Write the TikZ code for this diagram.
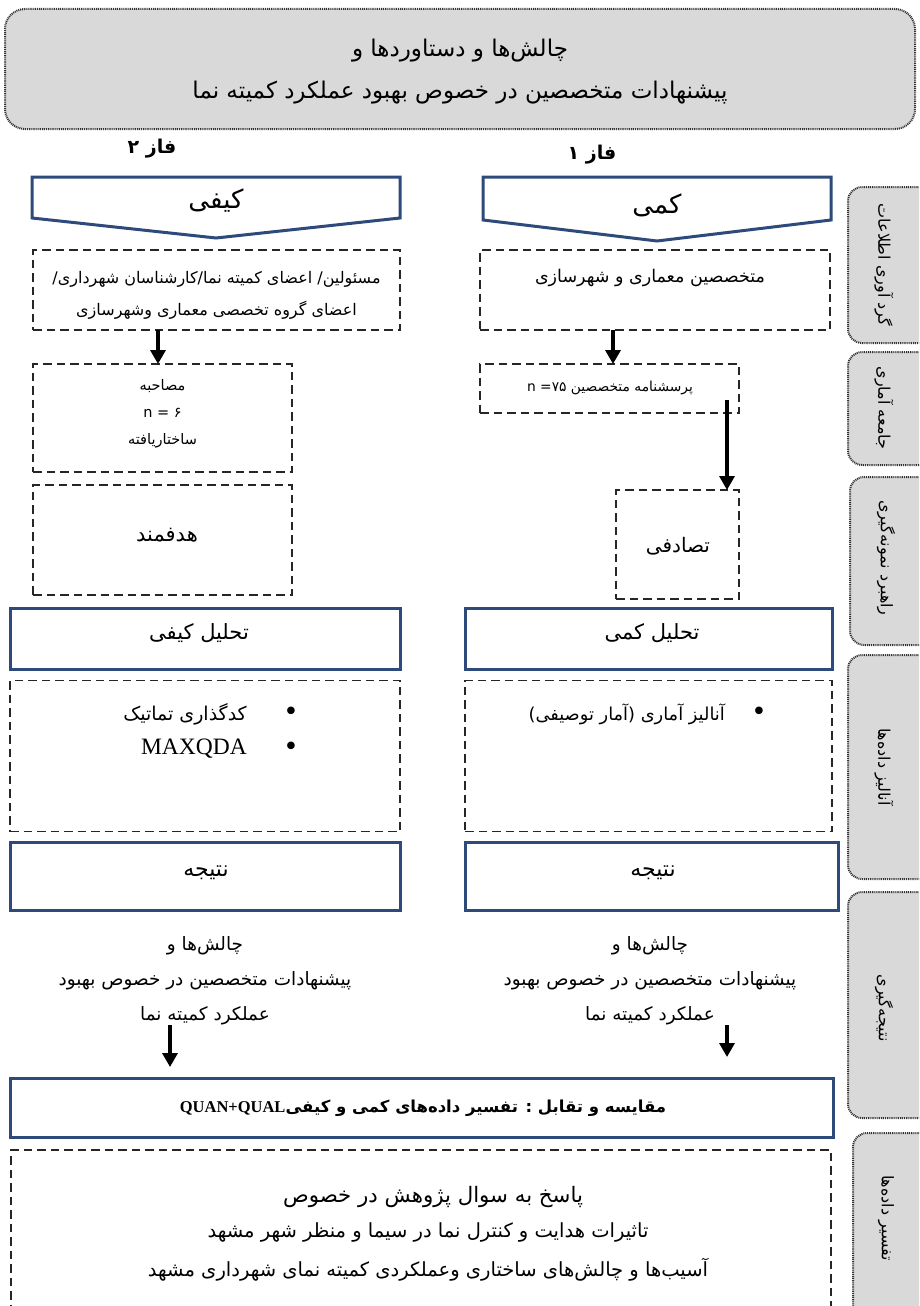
\documentclass[tikz,border=0pt]{standalone}
\usepackage{fontspec}
\setmainfont{Liberation Serif}
\newfontfamily\fa[Script=Arabic]{DejaVu Sans}
\newfontfamily\lat{Liberation Serif}
\TeXXeTstate=1
\usetikzlibrary{arrows.meta}
\definecolor{bbl}{RGB}{46,74,122}
\definecolor{gfill}{RGB}{217,217,217}
\newcommand\rtl[1]{\beginR #1\endR}
\newcommand\fsz[2]{\fontsize{#1}{#2}\selectfont}
\newcommand\fsl{\kern0pt/\kern0pt}
\begin{document}
\begin{tikzpicture}[x=1pt,y=-1pt,
  dbox/.style={draw=black!85,line width=1.8pt,dash pattern=on 8.5pt off 5pt,inner sep=0pt,outer sep=0pt},
  bbox/.style={draw=bbl,line width=3pt,inner sep=0pt,outer sep=0pt},
  tabbox/.style={draw=black!80,fill=gfill,line width=2pt,dash pattern=on 1pt off 0.9pt,rounded corners=14pt,inner sep=0pt},
  pent/.style={draw=bbl,line width=3pt,line join=miter},
  arr/.style={line width=3.4pt,-{Triangle[width=15pt,length=14pt]}},
  txt/.style={inner sep=0pt,align=center},
  bul/.style={inner sep=0pt,font=\fa\fsz{26}{26}},
  tabtxt/.style={inner sep=0pt,rotate=-90,font=\fa\fsz{16}{18}}]

\useasboundingbox (0,0) rectangle (919,1306);
\begin{scope}
\clip (0,0) rectangle (919,1306);

% top box
\node[tabbox,rounded corners=20pt,minimum width=910pt,minimum height=120pt] (top) at (460,69) {};
\node[txt,font=\fa\fsz{23}{42}] (toptxt) at (460,72) {\rtl{چالش‌ها و دستاوردها و}\\\rtl{پیشنهادات متخصصین در خصوص بهبود عملکرد کمیته نما}};

% phase labels
\node[txt,font=\fa\bfseries\fsz{19}{22}] (ph2) at (152,149) {\rtl{فاز ۲}};
\node[txt,font=\fa\bfseries\fsz{19}{22}] (ph1) at (592,155) {\rtl{فاز ۱}};

% pentagons
\draw[pent] (32,177) -- (400,177) -- (400,218) -- (216,238) -- (32,218) -- cycle;
\node[txt,font=\fa\fsz{26}{30}] (kayfi) at (216,201) {\rtl{کیفی}};
\draw[pent] (483,177) -- (831,177) -- (831,220) -- (657,241) -- (483,220) -- cycle;
\node[txt,font=\fa\fsz{26}{30}] (kammi) at (657,205) {\rtl{کمی}};

% left column
\node[dbox,minimum width=367pt,minimum height=80pt] (q1) at (216.5,290) {};
\node[txt,font=\fa\fsz{16}{32}] (q1t) at (216.5,295) {\rtl{مسئولین\fsl\ اعضای کمیته نما\fsl کارشناسان شهرداری\fsl}\\\rtl{اعضای گروه تخصصی معماری وشهرسازی}};
\node[dbox,minimum width=259pt,minimum height=108pt] (q2) at (162.5,418) {};
\node[txt,font=\fa\fsz{14.5}{27}] (q2t) at (162.5,414) {\rtl{مصاحبه}\\n = ۶\\\rtl{ساختاریافته}};
\node[dbox,minimum width=259pt,minimum height=110pt] (q3) at (162.5,540) {};
\node[txt,font=\fa\fsz{21}{24}] (q3t) at (167,535) {\rtl{هدفمند}};
\node[bbox,minimum width=390pt,minimum height=61pt] (q4) at (205,638.5) {};
\node[txt,font=\fa\fsz{21}{26}] (q4t) at (199,633) {\rtl{تحلیل کیفی}};
\node[dbox,minimum width=390pt,minimum height=151pt] (q5) at (205,756) {};
\node[bul] (qb1) at (291,714) {•};
\node[txt,font=\fa\fsz{19}{22},anchor=east] (qb1t) at (247,714) {\rtl{کدگذاری تماتیک}};
\node[bul] (qb2) at (291,749) {•};
\node[txt,font=\lat\fsz{23.5}{26},anchor=east] (qb2t) at (247,749) {MAXQDA};
\node[bbox,minimum width=390pt,minimum height=68pt] (q6) at (205,876) {};
\node[txt,font=\fa\fsz{22}{26}] (q6t) at (206,873) {\rtl{نتیجه}};
\node[txt,font=\fa\fsz{18.4}{35}] (lt) at (205,981) {\rtl{چالش‌ها و}\\\rtl{پیشنهادات متخصصین در خصوص بهبود}\\\rtl{عملکرد کمیته نما}};

% right column
\node[dbox,minimum width=350pt,minimum height=80pt] (r1) at (655,290) {};
\node[txt,font=\fa\fsz{17.5}{20}] (r1t) at (650,278) {\rtl{متخصصین معماری و شهرسازی}};
\node[dbox,minimum width=259pt,minimum height=49pt] (r2) at (609.5,388.5) {};
\node[txt,font=\fa\fsz{13.8}{16}] (r2t) at (610,388) {\rtl{پرسشنامه متخصصین \beginL n ۷۵=\endL}};
\node[dbox,minimum width=123pt,minimum height=109pt] (r3) at (677.5,544.5) {};
\node[txt,font=\fa\fsz{20}{24}] (r3t) at (678,546) {\rtl{تصادفی}};
\node[bbox,minimum width=367pt,minimum height=61pt] (r4) at (648.5,638.5) {};
\node[txt,font=\fa\fsz{21}{26}] (r4t) at (652,633) {\rtl{تحلیل کمی}};
\node[dbox,minimum width=367pt,minimum height=151pt] (r5) at (648.5,756) {};
\node[bul] (rb1) at (759,714) {•};
\node[txt,font=\fa\fsz{17.8}{20},anchor=east] (rb1t) at (725,714) {\rtl{آنالیز آماری (آمار توصیفی)}};
\node[bbox,minimum width=373pt,minimum height=68pt] (r6) at (651.5,876) {};
\node[txt,font=\fa\fsz{22}{26}] (r6t) at (653,873) {\rtl{نتیجه}};
\node[txt,font=\fa\fsz{18.4}{35}] (rt) at (650,981) {\rtl{چالش‌ها و}\\\rtl{پیشنهادات متخصصین در خصوص بهبود}\\\rtl{عملکرد کمیته نما}};

% bottom
\node[bbox,minimum width=823pt,minimum height=59pt] (cmp) at (421.5,1107.5) {};
\node[txt,font=\fa\bfseries\fsz{16.5}{20}] (cmpt) at (423,1108) {\rtl{مقایسه و تقابل : تفسیر داده‌های کمی و کیفی\beginL{\lat QUAN+QUAL}\endL}};
\node[dbox,minimum width=820pt,minimum height=190pt] (ans) at (421,1245) {};
\node[txt,font=\fa\fsz{21.3}{24}] (ans1) at (433,1197) {\rtl{پاسخ به سوال پژوهش در خصوص}};
\node[txt,font=\fa\fsz{19.5}{22}] (ans2) at (428,1232) {\rtl{تاثیرات هدایت و کنترل نما در سیما و منظر شهر مشهد}};
\node[txt,font=\fa\fsz{19.5}{22}] (ans3) at (428,1270) {\rtl{آسیب‌ها و چالش‌های ساختاری وعملکردی کمیته نمای شهرداری مشهد}};

% arrows
\coordinate (xa) at (158,0);
\coordinate (xb) at (613,0);
\coordinate (a3s) at (727,400);
\coordinate (a4e) at (170,1067);
\coordinate (a5e) at (727,1057);
\draw[arr] (q1.south -| xa) -- (q2.north -| xa);
\draw[arr] (r1.south -| xb) -- (r2.north -| xb);
\draw[arr] (a3s) -- (r3.north -| a3s);
\draw[arr] (lt.south -| a4e) -- (a4e);
\draw[arr] (rt.south -| a5e) -- (a5e);

% side tabs
\node[tabbox,minimum width=92pt,minimum height=156pt] (t1) at (894,265) {};
\node[tabtxt] (t1t) at (884,265) {\rtl{گرد آوری اطلاعات}};
\node[tabbox,minimum width=92pt,minimum height=113pt] (t2) at (894,408.5) {};
\node[tabtxt] (t2t) at (884,408) {\rtl{جامعه آماری}};
\node[tabbox,minimum width=90pt,minimum height=168pt] (t3) at (895,561) {};
\node[tabtxt] (t3t) at (886,558) {\rtl{راهبرد نمونه‌گیری}};
\node[tabbox,minimum width=92pt,minimum height=224pt] (t4) at (894,767) {};
\node[tabtxt] (t4t) at (884,767) {\rtl{آنالیز داده‌ها}};
\node[tabbox,minimum width=92pt,minimum height=226pt] (t5) at (894,1005) {};
\node[tabtxt] (t5t) at (884,1008) {\rtl{نتیجه‌گیری}};
\node[tabbox,minimum width=88pt,minimum height=197pt] (t6) at (897,1231.5) {};
\node[tabtxt] (t6t) at (886,1218) {\rtl{تفسیر داده‌ها}};
\end{scope}
\end{tikzpicture}
\end{document}
